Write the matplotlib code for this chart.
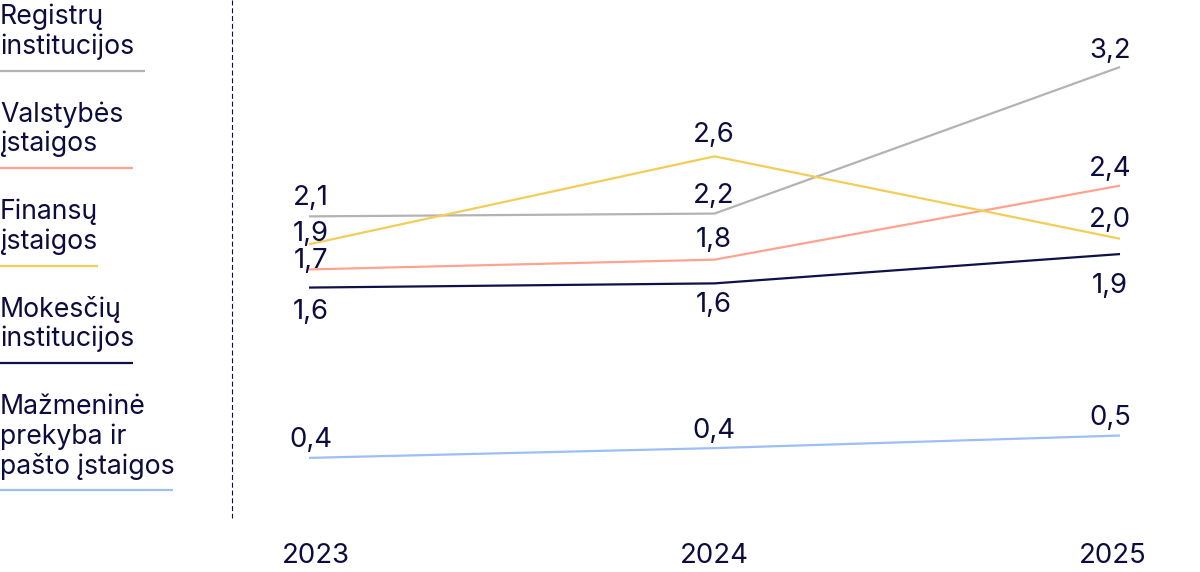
import matplotlib.pyplot as plt

plt.rcParams['font.family'] = ['Inter', 'DejaVu Sans']

# data
years = [2023, 2024, 2025]

series_names = [
    'Registrų\ninstitucijos',
    'Valstybės\nįstaigos',
    'Finansų\nįstaigos',
    'Mokesčių\ninstitucijos',
    'Mažmeninė\nprekyba ir\npašto įstaigos',
]
registru = [2.13, 2.15, 3.20]
valstybes = [1.75, 1.82, 2.35]
finansu = [1.93, 2.56, 1.97]
mokesciu = [1.62, 1.65, 1.86]
mazmenine = [0.40, 0.47, 0.56]

registru_labels = ['2,1', '2,2', '3,2']
valstybes_labels = ['1,7', '1,8', '2,4']
finansu_labels = ['1,9', '2,6', '2,0']
mokesciu_labels = ['1,6', '1,6', '1,9']
mazmenine_labels = ['0,4', '0,4', '0,5']

# style
text_color = '#0c0c3e'
colors = ['#b3b3b3', '#ffa38f', '#f3cd57', '#10104a', '#9dbff4']
rule_len = [145, 133, 98, 133, 173]
# label offsets in pixels (up is positive)
label_dy = [
    [21, 21, 19],
    [11, 23, 20],
    [13, 24, 22],
    [-21, -19, -29],
    [21, 20, 21],
]
label_dx = [2, -1, -10]
fs = 19.8
legend_fs = 19.2

values = [registru, valstybes, finansu, mokesciu, mazmenine]
labels = [registru_labels, valstybes_labels, finansu_labels, mokesciu_labels, mazmenine_labels]

W, H = 1200, 572
fig = plt.figure(figsize=(W / 100, H / 100), dpi=100)

# legend / overlay in pixel coords
lax = fig.add_axes([0, 0, 1, 1])
lax.set_xlim(0, W)
lax.set_ylim(H, 0)
lax.axis('off')

y0 = 14
for name, col, length in zip(series_names, colors, rule_len):
    rows = name.split('\n')
    for i, row in enumerate(rows):
        lax.text(0, y0 + i * 29.5, row, fontsize=legend_fs, color=text_color,
                 ha='left', va='center_baseline')
    rule_y = y0 + (len(rows) - 1) * 29.5 + 27
    lax.plot([0, length], [rule_y, rule_y], color=col, lw=1.6, solid_capstyle='butt')
    y0 = rule_y + 41

lax.plot([232, 232], [0, 518], color=text_color, lw=0.8, linestyle=(0, (4.5, 2.5)))

# chart
ax = fig.add_axes([309 / W, 52 / H, 811 / W, 520 / H])
ax.set_xlim(2023, 2025)
ax.set_ylim(-0.045, 3.68)
ax.axis('off')

for vals, labs, col, dys in zip(values, labels, colors, label_dy):
    ax.plot(years, vals, color=col, lw=1.6, clip_on=False, solid_capstyle='butt')
    for x, v, lab, dx, dy in zip(years, vals, labs, label_dx, dys):
        ax.annotate(lab, (x, v), xytext=(dx, dy), textcoords='offset pixels',
                    ha='center', va='center_baseline', fontsize=fs, color=text_color)

year_dx = [7, 0, -7]
for x, dx in zip(years, year_dx):
    ax.annotate(str(x), (x, 0), xycoords=('data', 'axes fraction'),
                xytext=(dx, -33), textcoords='offset pixels',
                ha='center', va='center_baseline', fontsize=fs, color=text_color)

fig.savefig('out.png', dpi=100)
